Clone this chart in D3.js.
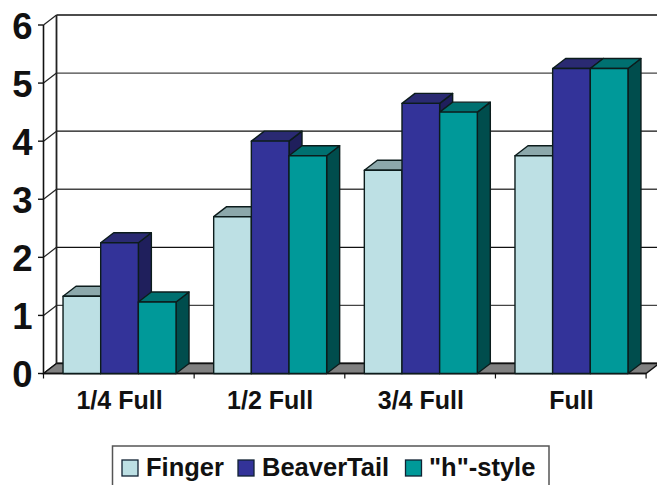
<!DOCTYPE html>
<html><head><meta charset="utf-8">
<script src="https://cdn.jsdelivr.net/npm/d3@7"></script>
<style>html,body{margin:0;padding:0;background:#fff;overflow:hidden}svg{display:block}text{font-family:"Liberation Sans",Arial,sans-serif;font-weight:bold;fill:#111}</style>
</head><body><svg id="c" width="657" height="485"></svg>
<script>
const categories = ["1/4 Full","1/2 Full","3/4 Full","Full"];
const seriesNames = ["Finger","BeaverTail","\"h\"-style"];
const finger = [1.33,2.7,3.5,3.75];
const beaverTail = [2.25,4.0,4.65,5.25];
const hStyle = [1.23,3.75,4.5,5.25];
const yTicks = [0,1,2,3,4,5,6];
const fronts = ["#BDE0E4","#333399","#009999"];
const tops = ["#8CA8AB","#2A2A72","#007070"];
const sides = ["#8CA8AB","#1F1F5C","#004D4D"];
const series = [finger,beaverTail,hStyle];

const svg = d3.select("#c");
const dx = 13, dy = 10;
const x = d3.scaleBand().domain(categories).range([44.2,646.8]);
const inner = d3.scaleBand().domain(d3.range(3)).range([0,x.bandwidth()]).paddingOuter(0.5).paddingInner(0);
const y = d3.scaleLinear().domain([0,6]).range([373.5,25]);
const poly = pts => pts.map(p=>p.join(",")).join(" ");

yTicks.forEach(t=>{
  const yy=y(t);
  svg.append("line").attr("x1",43.5+dx).attr("x2",660).attr("y1",yy-dy).attr("y2",yy-dy)
    .attr("stroke",t%2?"#444":"#111").attr("stroke-width",t===0?2:1.4);
  svg.append("line").attr("x1",43.5).attr("x2",43.5+dx).attr("y1",yy).attr("y2",yy-dy).attr("stroke","#222").attr("stroke-width",1.2);
  svg.append("line").attr("x1",38).attr("x2",43.5).attr("y1",yy).attr("y2",yy).attr("stroke","#111").attr("stroke-width",1.4);
  svg.append("text").attr("x",32.5).attr("y",yy+13.5).attr("text-anchor","end").attr("font-size",36.5).text(t);
});
svg.append("polygon").attr("points",poly([[43.5,y(0)],[646,y(0)],[659,y(0)-dy],[56.5,y(0)-dy]])).attr("fill","#808080").attr("stroke","#111").attr("stroke-width",1.4);
svg.append("line").attr("x1",56.5).attr("x2",56.5).attr("y1",y(6)-dy).attr("y2",y(0)-dy).attr("stroke","#222").attr("stroke-width",1.8);
svg.append("line").attr("x1",43.5).attr("x2",43.5).attr("y1",y(6)).attr("y2",y(0)).attr("stroke","#111").attr("stroke-width",1.6);
svg.append("line").attr("x1",43.5).attr("x2",646).attr("y1",y(0)).attr("y2",y(0)).attr("stroke","#111").attr("stroke-width",1.6);
d3.range(5).forEach(i=>{
  const xx=43.5+i*x.step();
  svg.append("line").attr("x1",xx).attr("x2",xx).attr("y1",y(0)).attr("y2",y(0)+5).attr("stroke","#111").attr("stroke-width",1.2);
});

categories.forEach((c,ci)=>{
  d3.range(3).forEach(si=>{
    const x0=x(c)+inner(si), x1=x0+inner.bandwidth(), v=series[si][ci], t=y(v), b=y(0);
    const g=svg.append("g").attr("stroke","#0c1c1c").attr("stroke-width",1.4).attr("stroke-linejoin","round");
    g.append("polygon").attr("points",poly([[x1,t],[x1+dx,t-dy],[x1+dx,b-dy],[x1,b]])).attr("fill",sides[si]);
    g.append("polygon").attr("points",poly([[x0,t],[x0+dx,t-dy],[x1+dx,t-dy],[x1,t]])).attr("fill",tops[si]);
    g.append("rect").attr("x",x0).attr("y",t).attr("width",x1-x0).attr("height",b-t).attr("fill",fronts[si]);
  });
  svg.append("text").attr("x",x(c)+x.bandwidth()/2).attr("y",409).attr("text-anchor","middle").attr("font-size",25).text(c);
});

svg.append("rect").attr("x",112.5).attr("y",446).attr("width",436.5).attr("height",50).attr("fill","#fff").attr("stroke","#555").attr("stroke-width",1.5);
const swatchX=[122,238,405.5], labelX=[146,262,429];
seriesNames.forEach((n,i)=>{
  svg.append("rect").attr("x",swatchX[i]).attr("y",460).attr("width",16).attr("height",16).attr("fill",fronts[i]).attr("stroke","#123").attr("stroke-width",1.3);
  svg.append("text").attr("x",labelX[i]).attr("y",476).attr("font-size",25.5).text(n);
});
</script></body></html>
